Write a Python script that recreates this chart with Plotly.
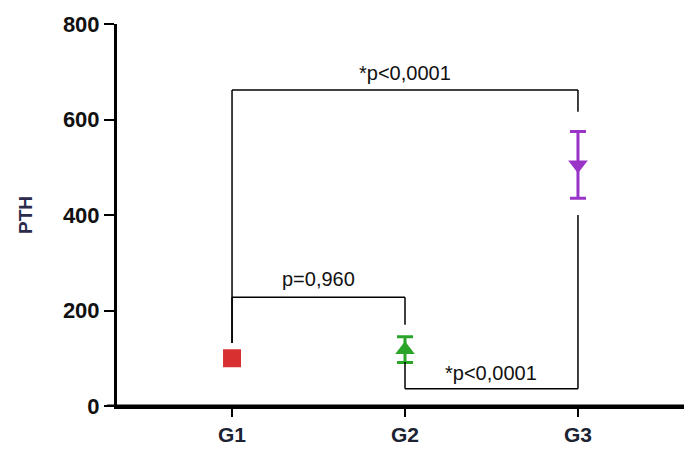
import plotly.graph_objects as go

groups = ["G1", "G2", "G3"]
xpos = [1, 2, 3]
means = [100, 118, 505]
errors = [5, 27, 70]
colors = ["#d83030", "#2aa52a", "#9a34c8"]
symbols = ["square", "triangle-up", "triangle-down"]
sizes = [18, 17, 17]

# brackets: (x_left, x_right, y_bar, y_left_end, y_right_end, label, label_x, label_y)
br_x0 = [1, 1, 2]
br_x1 = [3, 2, 3]
br_y = [662, 228, 36]
br_end0 = [132, 132, 92]
br_end1 = [616, 170, 400]
br_labels = ["*p<0,0001", "p=0,960", "*p<0,0001"]
br_lx = [2.0, 1.5, 2.5]
br_ly = [697, 267, 70]

yticks = [0, 200, 400, 600, 800]

fig = go.Figure()
for i in range(3):
    fig.add_trace(go.Scatter(
        x=[xpos[i]], y=[means[i]], mode="markers",
        marker=dict(symbol=symbols[i], size=sizes[i], color=colors[i]),
        error_y=dict(type="data", array=[errors[i]], visible=errors[i] > 10,
                     color=colors[i], thickness=3, width=8),
        showlegend=False))

shapes = []
for i in range(3):
    line = dict(color="black", width=1.5)
    shapes.append(dict(type="line", xref="x", yref="y", x0=br_x0[i], x1=br_x1[i], y0=br_y[i], y1=br_y[i], line=line))
    shapes.append(dict(type="line", xref="x", yref="y", x0=br_x0[i], x1=br_x0[i], y0=br_y[i], y1=br_end0[i], line=line))
    shapes.append(dict(type="line", xref="x", yref="y", x0=br_x1[i], x1=br_x1[i], y0=br_y[i], y1=br_end1[i], line=line))
# x-axis line extension left of y-axis
shapes.append(dict(type="line", xref="paper", yref="y", x0=-10/567, x1=1, y0=0, y1=0,
                   line=dict(color="black", width=3)))
fig.update_layout(shapes=shapes)

for i in range(3):
    fig.add_annotation(x=br_lx[i], y=br_ly[i], text=br_labels[i], showarrow=False,
                       font=dict(family="Liberation Sans, Arial", size=20, color="#111"))

fig.update_layout(
    width=684, height=451,
    margin=dict(l=117, r=0, t=24, b=45),
    plot_bgcolor="white", paper_bgcolor="white",
    xaxis=dict(range=[0.335, 3.613], tickvals=xpos, ticktext=groups,
               showline=True, linecolor="black", linewidth=3,
               ticks="outside", ticklen=8, tickwidth=2, tickcolor="black",
               showgrid=False, zeroline=False,
               tickfont=dict(family="Liberation Sans, Arial", size=21, color="#1c2333", weight="bold"),
               ),
    yaxis=dict(range=[0, 800], tickvals=yticks,
               showline=True, linecolor="black", linewidth=3,
               ticks="outside", ticklen=10, tickwidth=2, tickcolor="black",
               showgrid=False, zeroline=False,
               tickfont=dict(family="Liberation Sans, Arial", size=22, color="#111", weight="bold"),
               title=dict(text="<b>PTH</b>", standoff=26,
                          font=dict(family="Liberation Sans, Arial", size=19, color="#2b2b4b"))),
)

fig.write_html("out.html")
